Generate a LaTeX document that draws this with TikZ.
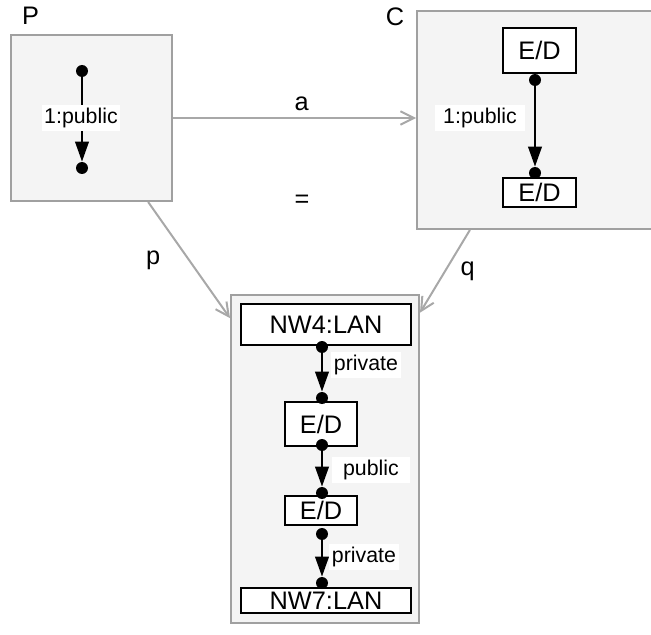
\documentclass[tikz,border=0pt]{standalone}
\usepackage{fontspec}
\setmainfont{Liberation Sans}
\usetikzlibrary{arrows.meta, positioning}
\definecolor{framefill}{HTML}{F4F4F4}
\definecolor{framedraw}{HTML}{A0A0A0}
\definecolor{mapgray}{HTML}{A8A8A8}

\begin{document}
\begin{tikzpicture}[
  x=0.75pt, y=-0.75pt,
  font=\fontsize{19}{22}\selectfont,
  frame/.style={draw=framedraw, fill=framefill, line width=1.5pt, inner sep=0pt},
  unit/.style={draw=black, fill=white, line width=1.5pt, inner sep=0pt},
  port/.style={circle, fill=black, inner sep=0pt, minimum size=9pt},
  link/.style={-{Triangle[length=15pt,width=10pt]}, line width=2pt},
  maparr/.style={-{Straight Barb[length=10pt,width=10pt]}, draw=mapgray, line width=1.5pt},
  tag/.style={fill=white, inner sep=2pt, font=\fontsize{16}{19}\selectfont}
]
\useasboundingbox (0,0) rectangle (651,635);

% ---------------------------------------------- the three frames
\node[frame, minimum width=120.75pt, minimum height=124.5pt] (P) at (91.5,118) {};
\node[frame, minimum width=178.5pt, minimum height=163.5pt] (C) at (536,120) {};
\node[frame, minimum width=141pt, minimum height=246pt] (S) at (325,459) {};

\node (Ptitle) at (30.5,16) {P};
\node (Ctitle) at (395,17) {C};
\node (eq) at (302,201) {=};

% ---------------------------------------------- the maps
\draw[maparr] (P.east) -- node[pos=0.53, above=1pt] {a} (P.east -| C.west);
\draw[maparr] (P.-56.2) -- node[midway, xshift=-27pt] {p} (S.124.7);
\draw[maparr] (C.239.2) -- node[midway, xshift=17pt] {q} (S.57.1);

% ---------------------------------------------- inside P
\node[port] (Ptop) at (82,71) {};
\node[port] (Pbot) at (82,168) {};
\draw[link] (Ptop) -- (Pbot);
\node[tag] (Ptag) at (81,118) {1:public};

% ---------------------------------------------- inside C
\node[unit, minimum width=54.75pt, minimum height=33.75pt] (Ctop) at (539.5,50.5) {E/D};
\node[unit, minimum width=54.75pt, minimum height=21.75pt] (Cbot) at (539.5,192.5) {E/D};
\node[port] (Cout) at (535,80) {};
\node[port] (Cin) at (535,173) {};
\draw[link] (Cout) -- (Cin);
\node[tag, minimum width=67.5pt] (Ctag) at (480,118) {1:public};

% ---------------------------------------------- inside the result
\node[unit, minimum width=127.5pt, minimum height=30.75pt] (nw4) at (326,324.5) {NW4:LAN};
\node[unit, minimum width=54pt, minimum height=33pt] (ed1) at (321,424) {E/D};
\node[unit, minimum width=54pt, minimum height=21.75pt] (ed2) at (321,510.5) {E/D};
\node[unit, minimum width=127.5pt, minimum height=18.75pt] (nw7) at (326,600.5) {NW7:LAN};

\node[port] (nw4out) at (322,347) {};
\node[port] (ed1in) at (322,398) {};
\node[port] (ed1out) at (322,445) {};
\node[port] (ed2in) at (322,493) {};
\node[port] (ed2out) at (322,534) {};
\node[port] (nw7in) at (322,583) {};

\draw[link] (nw4out) -- (ed1in);
\draw[link] (ed1out) -- (ed2in);
\draw[link] (ed2out) -- (nw7in);

\node[tag] (tagA) at (366,365) {private};
\node[tag, minimum width=58.5pt] (tagB) at (371,470) {public};
\node[tag] (tagC) at (364,557) {private};

\end{tikzpicture}
\end{document}
